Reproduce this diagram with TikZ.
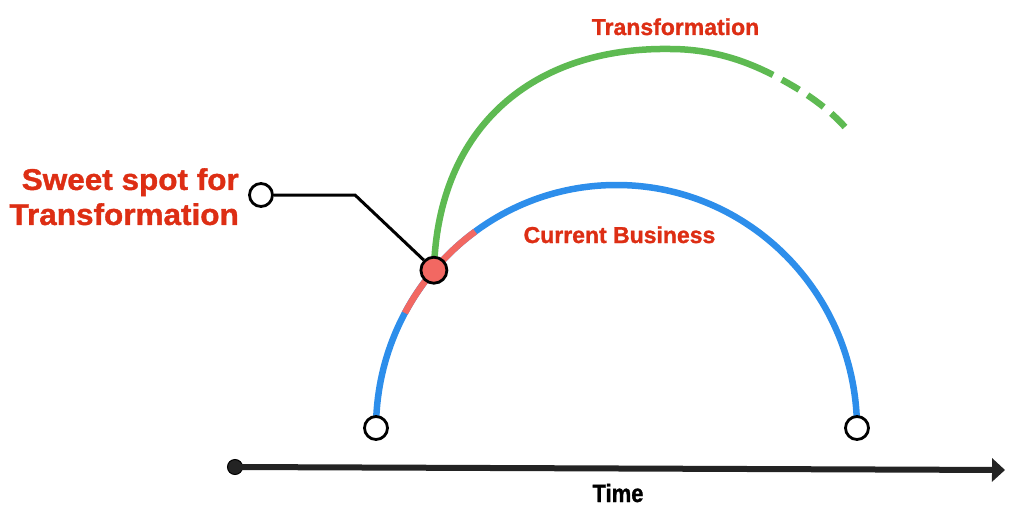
\documentclass[tikz,border=0pt]{standalone}
\usepackage{fontspec}
\setmainfont{Liberation Sans}
\newfontfamily\heavyfont[FakeBold=1.2]{Liberation Sans Bold}
\usetikzlibrary{arrows.meta,calc}
\definecolor{curblue}{RGB}{45,142,235}
\definecolor{trgreen}{RGB}{94,186,82}
\definecolor{spotred}{RGB}{242,104,98}
\definecolor{labelred}{RGB}{221,46,20}
\definecolor{axisgray}{RGB}{35,35,35}
\begin{document}
\begin{tikzpicture}[
  x=1pt,y=1pt,
  curve/.style={line width=6.5pt},
  endpt/.style={circle,draw=black,line width=2.8pt,fill=white,minimum size=23pt,inner sep=0pt},
  spot/.style={circle,draw=black,line width=2.8pt,fill=spotred,minimum size=26pt,inner sep=0pt},
  callout/.style={black,line width=3pt},
  title/.style={font=\heavyfont\fontsize{23}{27}\selectfont,text=labelred,inner sep=0pt},
  axislabel/.style={font=\heavyfont\fontsize{25}{29}\selectfont,xscale=0.88,inner sep=0pt}
]
  \useasboundingbox (0,0) rectangle (1024,515);
  \def\cx{616.5}
  \def\cy{86}
  \def\rx{240.5}
  \def\ry{244}

  % current business
  \draw[curve,curblue] (\cx-\rx,\cy) arc[start angle=180,end angle=0,x radius=\rx,y radius=\ry];
  \draw[curve,spotred] ({\cx+\rx*cos(151.6)},{\cy+\ry*sin(151.6)})
    arc[start angle=151.6,end angle=126,x radius=\rx,y radius=\ry];
  \coordinate (s) at ({\cx+\rx*cos(139.4)},{\cy+\ry*sin(139.4)});

  % transformation
  \coordinate (top) at (670,466);
  \coordinate (solidend) at (773,440);
  \coordinate (dashend) at (845,388);
  \draw[curve,trgreen] (s) .. controls (438,390) and (535,468) .. (top)
    .. controls (712,466) and (746,454) .. (solidend);
  \draw[curve,trgreen,dash pattern=on 20pt off 10pt,dash phase=20pt]
    (solidend) .. controls (800,426) and (825,410) .. (dashend);

  \foreach \x/\n in {376/start,857/finish}{
    \node[endpt] (\n) at (\x,87) {};
  }

  % callout
  \node[endpt] (pin) at (261,320) {};
  \coordinate (bend) at (355,320);
  \node[spot] (sweet) at (s) {};
  \draw[callout] (pin.east) -- (bend) -- (sweet.north west);

  \node[font=\heavyfont\fontsize{30}{35}\selectfont,text=labelred,align=right,anchor=north east,
    xscale=1.05,inner sep=0pt] (spotlabel) at (239,347) {Sweet spot for\\Transformation};
  \node[title,anchor=base] (trlabel) at (675.5,480) {Transformation};
  \node[title,anchor=base] (curlabel) at (619.5,272) {Current Business};

  % time axis
  \node[circle,draw=black,fill=axisgray,line width=1pt,minimum size=15pt,inner sep=0pt] (origin) at (235,48) {};
  \coordinate (tend) at (1005,45);
  \draw[axisgray,line width=6pt,-{Triangle[length=13pt,width=23pt]}] (origin.center) -- (tend);
  \node[axislabel,anchor=base] (timelabel) at (618,13) {Time};
\end{tikzpicture}
\end{document}
